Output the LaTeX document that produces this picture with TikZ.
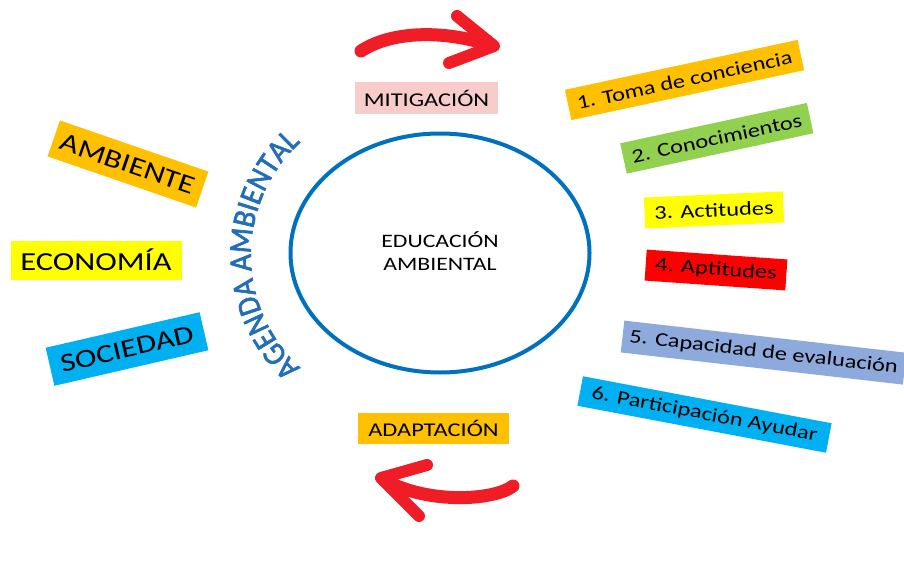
\documentclass[tikz,border=0pt]{standalone}
\usepackage{fontspec}
\setmainfont{Carlito}[FakeStretch=1.25]
\newfontfamily\agendafont{Carlito}[FakeStretch=0.92,FakeBold=2]
\usetikzlibrary{decorations.text,shapes.geometric}
\definecolor{cOrange}{RGB}{255,192,0}
\definecolor{cYellow}{RGB}{255,255,0}
\definecolor{cCyan}{RGB}{0,176,240}
\definecolor{cGreen}{RGB}{146,208,80}
\definecolor{cRed}{RGB}{255,0,0}
\definecolor{cLav}{RGB}{142,169,219}
\definecolor{cPink}{RGB}{249,204,204}
\definecolor{cBlue}{RGB}{0,112,192}
\definecolor{agendablue}{RGB}{35,110,185}
\definecolor{arrowred}{RGB}{240,28,38}
\begin{document}
\begin{tikzpicture}[x=1pt,y=1pt,
  box/.style={inner sep=0pt, minimum height=31pt, text=black, font=\fontsize{19.5}{20}\selectfont},
  bigbox/.style={inner sep=0pt, minimum height=38pt, text=black, font=\fontsize{26}{26}\selectfont},
  redbody/.style={draw=arrowred, line width=13pt, line cap=round},
  redhead/.style={draw=arrowred, line width=12pt, line cap=round, line join=round}]
\fill[white] (0,0) rectangle (904,-580);
\useasboundingbox (0,0) rectangle (904,-580);

% central ellipse
\node[draw=cBlue, line width=4pt, ellipse, minimum width=299pt, minimum height=239pt, inner sep=0pt] (circ) at (440,-253) {};
\node[align=center, font=\fontsize{19}{23}\selectfont] (edu) at (440,-251) {EDUCACIÓN\\AMBIENTAL};

% agenda text along arc
\path[decorate, decoration={text along path, text={|\agendafont\fontsize{32}{32}\selectfont|AGENDA AMBIENTAL}, text align=center, text color=agendablue}]
  (404,-255) ++(236:153pt) arc[start angle=236, end angle=124, radius=153pt];

% left boxes
\node[bigbox, fill=cOrange, minimum width=157pt, rotate=-19] (amb) at (128,-164) {AMBIENTE};
\node[bigbox, fill=cYellow, minimum width=171pt, minimum height=39pt] (eco) at (96,-260) {ECONOMÍA};
\node[bigbox, fill=cCyan, minimum width=158pt, minimum height=39pt, rotate=13] (soc) at (127,-349) {SOCIEDAD};

% top / bottom labels
\node[box, fill=cPink, minimum width=143pt, minimum height=32pt, font=\fontsize{19.5}{20}\selectfont] (mit) at (426.5,-98) {MITIGACIÓN};
\node[box, fill=cOrange, minimum width=151pt, font=\fontsize{19.5}{20}\selectfont] (ada) at (433.5,-428.5) {ADAPTACIÓN};

% right boxes
\node[box, fill=cOrange, minimum width=238pt, rotate=12.1] (r1) at (684.5,-80) {1. Toma de conciencia};
\node[box, fill=cGreen, minimum width=191pt, rotate=12.2] (r2) at (716.8,-138.3) {2. Conocimientos};
\node[box, fill=cYellow, minimum width=139pt, rotate=2.5] (r3) at (714,-210) {3. Actitudes};
\node[box, fill=cRed, minimum width=141pt, rotate=-4] (r4) at (716,-270) {4. Aptitudes};
\node[box, fill=cLav, minimum width=284pt, minimum height=32pt, rotate=-6.5] (r5) at (763.6,-352.6) {5. Capacidad de evaluación};
\node[box, fill=cCyan, minimum width=253pt, minimum height=30pt, rotate=-10.7] (r6) at (704.5,-414.5) {6. Participación Ayudar};

% red arrows
\coordinate (t1) at (361,-51);
\coordinate (t2) at (490,-45);
\coordinate (th1) at (457,-16);
\coordinate (tt) at (494,-46);
\coordinate (th2) at (449,-63);
\draw[redbody] (t1) .. controls (390,-32) and (440,-29) .. (t2);
\draw[redhead] (th1) -- (tt) -- (th2);

\coordinate (b1) at (513,-486);
\coordinate (b2) at (384,-480);
\coordinate (bh1) at (427,-465);
\coordinate (bt) at (381,-478);
\coordinate (bh2) at (419,-516);
\draw[redbody] (b1) .. controls (495,-500) and (430,-505) .. (b2);
\draw[redhead] (bh1) -- (bt) -- (bh2);
\end{tikzpicture}
\end{document}
